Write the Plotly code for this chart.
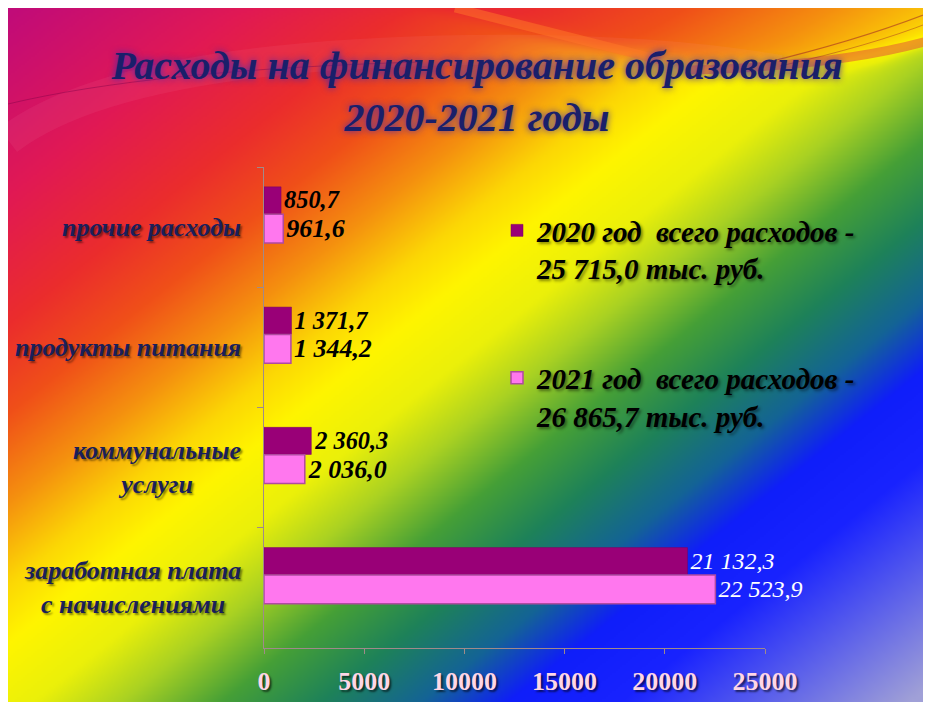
import base64, struct, zlib
import numpy as np
import plotly.graph_objects as go

# ---------------- data ----------------
categories = ["прочие расходы", "продукты питания", "коммунальные<br>услуги", "заработная плата<br>с начислениями"]
values_2020 = [850.7, 1371.7, 2360.3, 21132.3]
values_2021 = [961.6, 1344.2, 2036.0, 22523.9]
name_2020 = "2020 год  всего расходов -<br>25 715,0 тыс. руб."
name_2021 = "2021 год  всего расходов -<br>26 865,7 тыс. руб."
x_ticks = [0, 5000, 10000, 15000, 20000, 25000]


def fmt(v):
    return f"{v:,.1f}".replace(",", " ").replace(".", ",")


# ---------------- geometry (screen px; page body has 8px margin) ----------------
OFF = 8
W, H = 931 - OFF, 702 - OFF
PX0, PX1, PY0, PY1 = 264, 765, 167, 648          # plot area on screen
L, R, T, B = PX0 - OFF, OFF + W - PX1, PY0 - OFF, OFF + H - PY1
pw, ph = PX1 - PX0, PY1 - PY0


def px(x):
    return (x - PX0) / pw


def py(y):
    return (PY1 - y) / ph


# ---------------- background gradient (decoration only) ----------------
iw, ih = (W + 1) // 2, (H + 1) // 2
gx = np.linspace(OFF, OFF + W, iw)
gy = np.linspace(OFF, OFF + H, ih)
XX, YY = np.meshgrid(gx, gy)
ys_curve = np.interp(XX, [0, 420, 500, 600, 700, 800, 880, 931], [0, 0, 22, 48, 64, 68, 54, 38])
wtop = 1.0 / (1.0 + np.exp(-(ys_curve - YY) / 5.0))
kk = 0.8 - 0.2 * wtop
tt = kk * XX + YY
stops_t = [0, 200, 330, 420, 510, 590, 650, 730, 800, 880, 960, 1040, 1110, 1200, 1430]
stops_c = [(190, 10, 125), (225, 25, 85), (235, 45, 45), (240, 80, 25), (245, 145, 15),
           (252, 215, 5), (255, 245, 0), (235, 240, 10), (170, 210, 35), (70, 160, 55),
           (30, 130, 90), (20, 100, 150), (15, 30, 250), (25, 35, 255), (160, 160, 215)]
img = np.zeros((ih, iw, 3), dtype=np.uint8)
for k in range(3):
    img[..., k] = np.clip(np.interp(tt, stops_t, [c[k] for c in stops_c]), 0, 255).astype(np.uint8)


def png_uri(arr):
    h, w, _ = arr.shape
    raw = b"".join(b"\x00" + arr[r].tobytes() for r in range(h))

    def chunk(tag, data):
        return struct.pack(">I", len(data)) + tag + data + struct.pack(">I", zlib.crc32(tag + data) & 0xFFFFFFFF)

    png = (b"\x89PNG\r\n\x1a\n" + chunk(b"IHDR", struct.pack(">IIBBBBB", w, h, 8, 2, 0, 0, 0))
           + chunk(b"IDAT", zlib.compress(raw, 9)) + chunk(b"IEND", b""))
    return "data:image/png;base64," + base64.b64encode(png).decode()


bg_uri = png_uri(img)


def path(points):
    (x0, y0), rest = points[0], points[1:]
    s = f"M {px(x0):.4f},{py(y0):.4f}"
    for i in range(0, len(rest), 2):
        (cx, cy), (ex, ey) = rest[i], rest[i + 1]
        s += f" Q {px(cx):.4f},{py(cy):.4f} {px(ex):.4f},{py(ey):.4f}"
    return s


swooshes = [
    ([(8, 140), (120, 55), (470, 50), (650, 48), (780, 70)], "rgba(255,170,190,0.08)", 30),
    ([(455, 8), (560, 35), (660, 60)], "rgba(255,120,40,0.5)", 9),
    ([(690, 70), (840, 66), (931, 40)], "rgba(225,70,60,0.5)", 9),
    ([(760, 64), (860, 40), (931, 12)], "rgba(150,20,40,0.5)", 1.2),
    ([(780, 66), (870, 46), (931, 22)], "rgba(150,20,40,0.4)", 1.0),
    ([(8, 104), (150, 70), (420, 62)], "rgba(120,0,70,0.4)", 1.0),
]
shapes = [dict(type="path", xref="paper", yref="paper", layer="below", path=path(p),
               line=dict(color=c, width=w), fillcolor="rgba(0,0,0,0)")
          for p, c, w in swooshes]

serif = "Liberation Serif, Times New Roman, serif"

label_colors = ["#000000", "#000000", "#000000", "#ffffff"]
label_weights = ["bold", "bold", "bold", "normal"]
label_sizes = [27, 27, 27, 24]

fig = go.Figure()
fig.add_trace(go.Bar(
    y=categories, x=values_2020, orientation="h", name=name_2020,
    legendgroup="a", offset=-0.335, width=0.225,
    marker=dict(color="#990077", line=dict(color="#7a0060", width=0.5)),
    text=[fmt(v) for v in values_2020], textposition="outside", cliponaxis=False,
    textfont=dict(family=serif, size=label_sizes, style="italic",
                  color=label_colors, weight=label_weights),
))
fig.add_trace(go.Bar(
    y=categories, x=values_2021, orientation="h", name=name_2021,
    legendgroup="b", offset=-0.108, width=0.24,
    marker=dict(color="#ff77ee", line=dict(color="#b04aa0", width=1.5)),
    text=[fmt(v) for v in values_2021], textposition="outside", cliponaxis=False,
    textfont=dict(family=serif, size=label_sizes, style="italic",
                  color=label_colors, weight=label_weights),
))

annotations = []
for c in categories:
    annotations.append(dict(
        xref="paper", x=0, xanchor="right", xshift=-21, yref="y", y=c, yanchor="middle",
        text=c, showarrow=False, align="center",
        font=dict(family=serif, size=26, color="#1a1f5a", weight="bold", style="italic",
                  shadow="2px 2px 2px rgba(0,0,0,0.45)"),
    ))

fig.update_layout(
    width=W, height=H,
    margin=dict(l=L, r=R, t=T, b=B, autoexpand=False),
    paper_bgcolor="#ffffff", plot_bgcolor="rgba(0,0,0,0)",
    barmode="overlay",
    showlegend=True,
    title=dict(
        text="Расходы на финансирование образования<br>2020-2021 годы",
        x=(477 - OFF) / W, xanchor="center", xref="container", y=1 - 71 / H, yanchor="top", yref="container",
        font=dict(family=serif, size=40, color="#1a1f6a", weight="bold", style="italic",
                  shadow="0px 0px 7px rgba(70,40,170,0.95)"),
    ),
    legend=dict(
        x=px(497), xanchor="left", y=py(205), yanchor="top",
        bgcolor="rgba(0,0,0,0)", traceorder="grouped", tracegroupgap=69, valign="top",
        font=dict(family=serif, size=29, color="#000000", weight="bold", style="italic",
                  shadow="2px 2px 3px rgba(0,0,0,0.45)"),
    ),
    xaxis=dict(
        range=[0, 25000], tickvals=x_ticks, ticktext=[str(v) for v in x_ticks],
        showgrid=False, zeroline=False, showline=True, linecolor="#a08a8a", linewidth=1,
        ticks="outside", ticklen=5, tickcolor="#a08a8a", ticklabelstandoff=5,
        tickfont=dict(family=serif, size=26, color="#ffd6e6", weight="bold",
                      shadow="2px 2px 2px rgba(0,0,0,0.6)"),
    ),
    yaxis=dict(
        categoryorder="array", categoryarray=categories, autorange="reversed",
        showgrid=False, zeroline=False, showline=True, linecolor="#a08a8a", linewidth=1,
        ticks="outside", ticklen=6, tickcolor="#a08a8a", tickson="boundaries",
        showticklabels=False,
    ),
    annotations=annotations,
    shapes=shapes,
    images=[dict(
        source=bg_uri, xref="paper", yref="paper", layer="below", sizing="stretch",
        x=px(OFF), y=py(OFF), sizex=W / pw, sizey=H / ph,
        xanchor="left", yanchor="top",
    )],
)

fig.write_html("out.html")
